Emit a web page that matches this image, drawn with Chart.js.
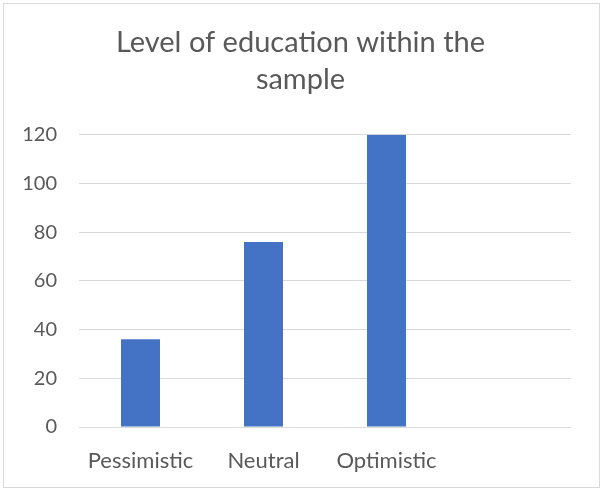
<!DOCTYPE html>
<html>
<head>
<meta charset="utf-8">
<script src="https://cdn.jsdelivr.net/npm/chart.js@4/dist/chart.umd.min.js"></script>
<style>
  html, body { margin: 0; padding: 0; background: #ffffff; }
  #wrap { position: relative; width: 601px; height: 489px; }
</style>
</head>
<body>
<div id="wrap"><canvas id="chart" width="601" height="489"></canvas></div>
<script>
// Outlook categories (the fourth slot is an empty category)
const categories = ['Pessimistic', 'Neutral', 'Optimistic', ''];
// Respondent counts per category
const counts = [36, 76, 120, null];
// Value axis tick marks
const yTicks = [0, 20, 40, 60, 80, 100, 120];

const textColor = '#595959';
const gridColor = '#d9d9d9';
const barColor = '#4472c4';
const fontFamily = 'Lato, "Open Sans", sans-serif';

// Light frame around the whole chart
const framePlugin = {
  id: 'frame',
  afterDraw(chart) {
    const ctx = chart.ctx;
    ctx.save();
    ctx.strokeStyle = gridColor;
    ctx.lineWidth = 1;
    ctx.strokeRect(3.5, 3.5, 596, 484);
    ctx.restore();
  }
};

new Chart(document.getElementById('chart'), {
  type: 'bar',
  data: {
    labels: categories,
    datasets: [{
      label: 'Count',
      data: counts,
      backgroundColor: barColor,
      borderWidth: 0,
      categoryPercentage: 1,
      barPercentage: 0.317
    }]
  },
  options: {
    responsive: false,
    animation: false,
    layout: { padding: 0 },
    plugins: {
      legend: { display: false },
      tooltip: { enabled: false },
      title: {
        display: true,
        text: ['Level of education within the', 'sample'],
        color: textColor,
        font: { family: fontFamily, size: 29, weight: 'normal', lineHeight: 1.29 },
        padding: { top: 24, bottom: 36 }
      }
    },
    scales: {
      x: {
        grid: { display: false },
        border: { display: false },
        ticks: {
          color: textColor,
          font: { family: fontFamily, size: 22 },
          padding: 13,
          maxRotation: 0,
          autoSkip: false
        },
        afterFit(scale) { scale.height = 62; }
      },
      y: {
        min: 0,
        max: 120,
        afterBuildTicks(scale) { scale.ticks = yTicks.map(v => ({ value: v })); },
        grid: { color: gridColor, lineWidth: 1, drawTicks: false },
        border: { display: false },
        ticks: {
          color: textColor,
          font: { family: fontFamily, size: 20 },
          padding: 22
        },
        afterFit(scale) { scale.width = 79; }
      },
      // empty right-hand margin so the plot ends short of the frame
      // while the title stays centred on the full width
      margin: {
        type: 'linear',
        position: 'right',
        display: true,
        grid: { display: false },
        border: { display: false },
        ticks: { display: false },
        afterFit(scale) { scale.width = 30; }
      }
    }
  },
  plugins: [framePlugin]
});
</script>
</body>
</html>
